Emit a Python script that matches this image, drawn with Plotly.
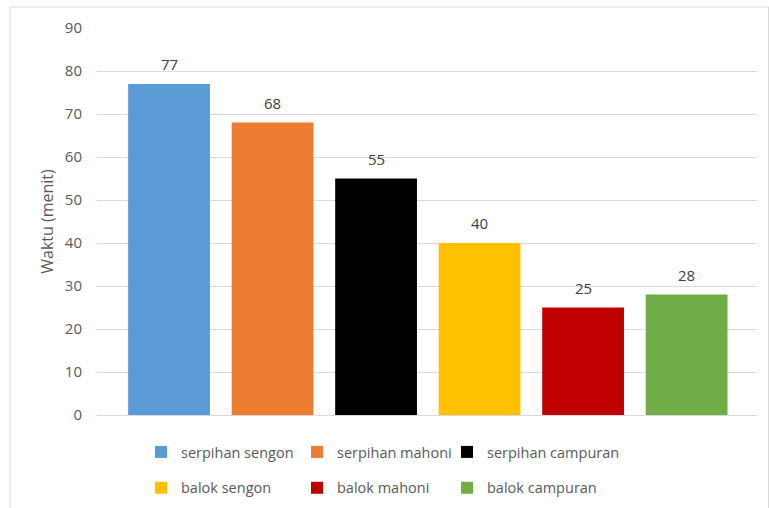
import plotly.graph_objects as go

categories = ["serpihan sengon", "serpihan mahoni", "serpihan campuran",
              "balok sengon", "balok mahoni", "balok campuran"]
values = [77, 68, 55, 40, 25, 28]
colors = ["#5B9BD5", "#ED7D31", "#000000", "#FFC000", "#C00000", "#70AD47"]
y_ticks = [0, 10, 20, 30, 40, 50, 60, 70, 80, 90]

FONT = "Open Sans"
W, H = 769, 508
L, R, T, B = 97, 12, 28, 93
pw, ph = W - L - R, H - T - B

fig = go.Figure()
legend_names = ["legend", "legend2", "legend3"]
for i, (c, v, col) in enumerate(zip(categories, values, colors)):
    fig.add_trace(go.Bar(
        x=[i], y=[v], name=c, marker_color=col, marker_line_width=0,
        width=0.79, legend=legend_names[i % 3], legendgroup=c,
    ))
    fig.add_annotation(x=i, y=v, text=str(v), showarrow=False, yshift=20,
                       font=dict(family=FONT, size=15, color="#404040"))

def px_to_paper_x(p):
    return (p - L) / pw

def px_to_paper_y(p):
    return (H - B - p) / ph

# chart outer border
fig.add_shape(type="rect", xref="paper", yref="paper",
              x0=px_to_paper_x(10), x1=px_to_paper_x(768.5),
              y0=px_to_paper_y(520), y1=px_to_paper_y(7),
              line=dict(color="#D9D9D9", width=1), fillcolor="rgba(0,0,0,0)",
              layer="below")

leg_common = dict(orientation="v", yanchor="top", xanchor="left",
                  font=dict(family=FONT, size=14.5, color="#595959"),
                  bgcolor="rgba(0,0,0,0)", tracegroupgap=14,
                  itemwidth=30, traceorder="grouped")
leg_y = px_to_paper_y(436)

fig.update_layout(
    width=W, height=H,
    margin=dict(l=L, r=R, t=T, b=B, autoexpand=False),
    paper_bgcolor="white", plot_bgcolor="white",
    barmode="overlay",
    font=dict(family=FONT, size=15, color="#595959"),
    xaxis=dict(range=[-0.696, 5.68], showticklabels=False, showgrid=False,
               zeroline=False, showline=False, ticks=""),
    yaxis=dict(range=[0, 90], tickvals=y_ticks, showgrid=True,
               gridcolor="#D9D9D9", gridwidth=1, zeroline=True,
               zerolinecolor="#D9D9D9", zerolinewidth=1, showline=False,
               ticks="", ticklabelstandoff=14,
               tickfont=dict(family=FONT, size=15, color="#595959"),
               title=dict(text="Waktu (menit)", standoff=7,
                          font=dict(family=FONT, size=16, color="#595959"))),
    legend=dict(x=px_to_paper_x(141), y=leg_y, **leg_common),
    legend2=dict(x=px_to_paper_x(297), y=leg_y, **leg_common),
    legend3=dict(x=px_to_paper_x(447), y=leg_y, **leg_common),
    showlegend=True,
)

fig.write_html("out.html")
